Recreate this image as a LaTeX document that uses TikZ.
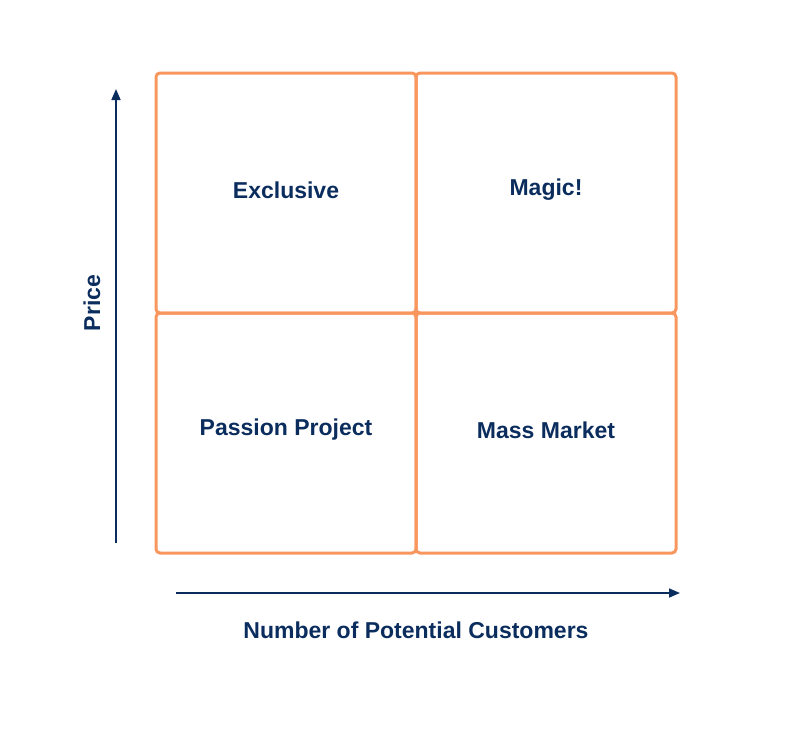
\documentclass[tikz,border=0pt]{standalone}
\usepackage{fontspec}
\setmainfont{Liberation Sans}
\usetikzlibrary{arrows.meta}
\definecolor{org}{HTML}{F9965E}
\definecolor{navy}{HTML}{0B2D5E}
\begin{document}
\begin{tikzpicture}[x=1pt,y=-1pt,
  quad/.style={draw=org,line width=3pt,rounded corners=4pt},
  lbl/.style={text=navy,font=\fontsize{23}{26}\selectfont\bfseries},
  axis/.style={draw=navy,line width=1.6pt,-{Triangle[length=11pt,width=9pt]}}]
\useasboundingbox (0,0) rectangle (800,736);
\draw[quad] (156,73) rectangle (416,313);
\draw[quad] (416,73) rectangle (676,313);
\draw[quad] (156,313) rectangle (416,553);
\draw[quad] (416,313) rectangle (676,553);
\node[lbl] (ex) at (286,190) {Exclusive};
\node[lbl] (mg) at (546,190) {Magic!};
\node[lbl] (pp) at (286,430) {Passion Project};
\node[lbl] (mm) at (546,430) {Mass Market};
\coordinate (v0) at (116,543); \coordinate (v1) at (116,89);
\coordinate (h0) at (176,593); \coordinate (h1) at (680,593);
\draw[axis] (v0) -- (v1);
\draw[axis] (h0) -- (h1);
\node[lbl,rotate=90] (pr) at (92,303) {Price};
\node[lbl] (nc) at (416,630) {Number of Potential Customers};
\end{tikzpicture}
\end{document}
